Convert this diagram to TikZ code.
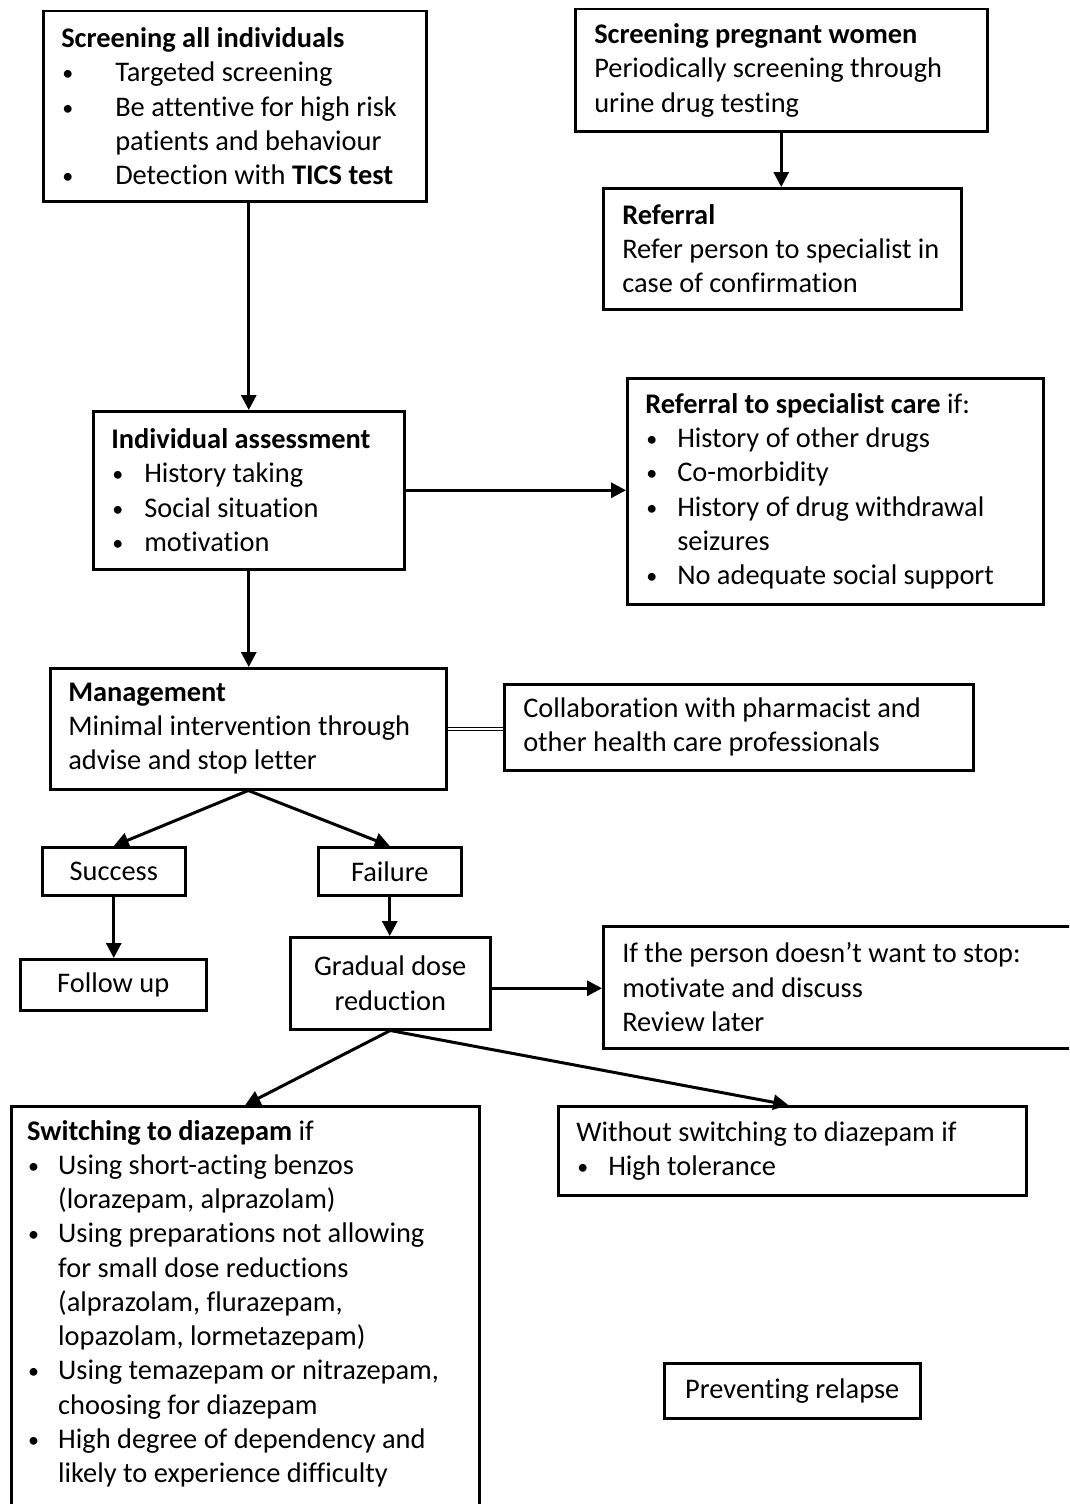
\documentclass[tikz,border=0pt]{standalone}
\usepackage{fontspec}
\setmainfont{Carlito}[Ligatures=NoCommon]
\usetikzlibrary{arrows.meta}
\newcommand\bul[2]{\par\hangindent=#1\hangafter=1\noindent\makebox[#1][l]{\hspace{1pt}\raisebox{1pt}{\fontsize{22}{22}\selectfont•}}#2}
\begin{document}
\begin{tikzpicture}[x=1pt,y=-1pt, font=\fontsize{28.4}{34.25}\selectfont,
 box/.style={draw, line width=2.5pt, anchor=north west, align=flush left, inner ysep=0pt},
 cbox/.style={draw, line width=2.5pt, anchor=north west, align=center, inner sep=0pt},
 txt/.style={anchor=north west, align=flush left, inner sep=0pt},
 arr/.style={line width=3pt, -{Triangle[length=15pt,width=15pt]}},
 dbl/.style={line width=0.9pt, double, double distance=2.2pt}]
\useasboundingbox[fill=white] (0,0) rectangle (1069,1504);
\clip (0,0) rectangle (1069,1504);

\node[box, minimum width=383pt, minimum height=190pt, text width=347pt, inner xsep=18pt] (A) at (42,10)
 {\textbf{Screening all individuals}\bul{54pt}{Targeted screening}\bul{54pt}{Be attentive for high risk\newline patients and behaviour}\bul{54pt}{Detection with \textbf{TICS test}}\par};

\node[box, minimum width=412pt, minimum height=122pt, text width=374pt, inner xsep=19pt] (B) at (574,8)
 {\textbf{Screening pregnant women}\\Periodically screening through\\urine drug testing};

\node[box, minimum width=358pt, minimum height=121pt, text width=320pt, inner xsep=19pt] (C) at (602,187)
 {\textbf{Referral}\\\mbox{Refer person to specialist in}\\case of confirmation};

\node[box, minimum width=311pt, minimum height=158pt, text width=275pt, inner xsep=18pt] (D) at (92,410)
 {\textbf{Individual assessment}\bul{33pt}{History taking}\bul{33pt}{Social situation}\bul{33pt}{motivation}\par};

\node[box, minimum width=416pt, minimum height=226pt, text width=380pt, inner xsep=18pt] (E) at (626,377)
 {\textbf{Referral to specialist care} if:\bul{32pt}{History of other drugs}\bul{32pt}{Co-morbidity}\bul{32pt}{History of drug withdrawal\newline seizures}\bul{32pt}{No adequate social support}\par};

\node[box, minimum width=396pt, minimum height=121pt, text width=360pt, inner xsep=18pt] (F) at (49,667)
 {\textbf{Management}\\Minimal intervention through\\advise and stop letter};

\node[box, minimum width=469pt, minimum height=86pt, text width=431pt, inner xsep=19pt] (G) at (503,683)
 {Collaboration with pharmacist and\\other health care professionals};

\node[cbox, minimum width=143pt, minimum height=48pt] (H) at (41,846) {Success};
\node[cbox, minimum width=143pt, minimum height=48pt] (I) at (317,846) {Failure};
\node[cbox, minimum width=186pt, minimum height=51pt] (J) at (19,958) {Follow up};
\node[cbox, minimum width=200pt, minimum height=92pt] (K) at (289,936) {Gradual dose\\reduction};

\node[box, minimum width=520pt, minimum height=122pt, text width=482pt, inner xsep=19pt] (L) at (602,925)
 {If the person doesn’t want to stop:\\motivate and discuss\\Review later};

\node[draw, line width=2.5pt, anchor=north west, minimum width=468pt, minimum height=480pt, inner sep=0pt] (M) at (10,1105) {};
\node[txt, text width=434pt] (Mt) at (27,1120)
 {\textbf{Switching to diazepam} if\bul{31pt}{Using short-acting benzos\newline (lorazepam, alprazolam)}\bul{31pt}{Using preparations not allowing\newline for small dose reductions\newline (alprazolam, flurazepam,\newline lopazolam, lormetazepam)}\bul{31pt}{Using temazepam or nitrazepam,\newline choosing for diazepam}\bul{31pt}{High degree of dependency and\newline likely to experience difficulty}\par};

\node[box, minimum width=468pt, minimum height=89pt, text width=432pt, inner xsep=18pt] (N) at (557,1105)
 {Without switching to diazepam if\bul{32pt}{High tolerance}\par};

\node[cbox, minimum width=256pt, minimum height=55pt] (O) at (663,1362) {Preventing relapse};

\draw[arr] (D.north |- A.south) -- (D.north);
\draw[arr] (B.south) -- (B.south |- C.north);
\draw[arr] (D.east) -- (D.east -| E.west);
\draw[arr] (D.south) -- (D.south |- F.north);
\draw[dbl] (F.east) -- (F.east -| G.west);
\draw[arr] (F.south) -- (H.north);
\draw[arr] (F.south) -- (I.north);
\draw[arr] (H.south) -- (H.south |- J.north);
\draw[arr] (I.south) -- (I.south |- K.north);
\draw[arr] ([yshift=-5pt]K.east) -- ([yshift=-5pt]K.east -| L.west);
\draw[arr] (K.south) -- (M.north);
\draw[arr] (K.south) -- ([xshift=-4pt]N.north);
\end{tikzpicture}
\end{document}
